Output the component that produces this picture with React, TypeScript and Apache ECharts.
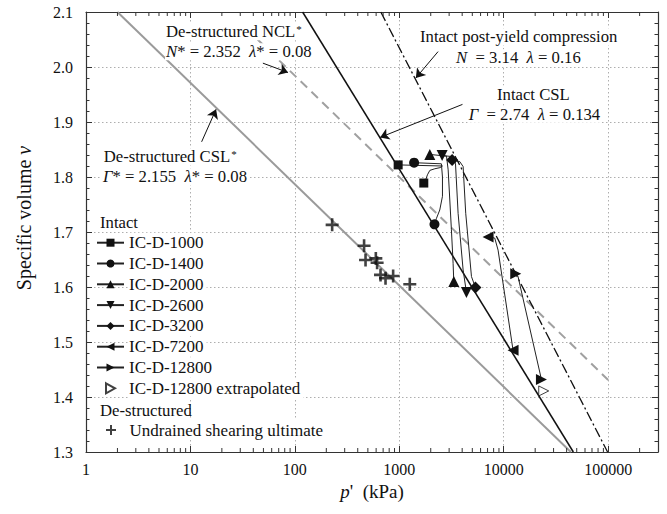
import React, { useEffect, useRef } from 'react';
import * as echarts from 'echarts';

const FONT = 'Liberation Serif';

// Axes
const X_MIN = 1;
const X_MAX = 300000;
const Y_MIN = 1.3;
const Y_MAX = 2.1;
const Y_STEP = 0.1;

// Reference lines (end points)
const cslDestructured = [[2.0, 2.1], [43900, 1.3]];
const nclDestructured = [[44, 2.05], [100000, 1.431]];
const cslIntact = [[118.6, 2.1], [46400, 1.3]];
const postYieldIntact = [[665, 2.1], [98700, 1.3]];

// Test paths (p', v)
const icd1000 = [[975, 1.822], [2590, 1.820], [2450, 1.817], [2190, 1.815], [1960, 1.812], [1860, 1.804], [1790, 1.795], [1716, 1.789]];
const icd1400 = [[1386, 1.826], [2530, 1.824], [2590, 1.800], [2590, 1.765], [2440, 1.740], [2270, 1.725], [2172, 1.714]];
const icd2000 = [[1959, 1.841], [2830, 1.838], [2937, 1.813], [3155, 1.704], [3275, 1.643], [3325, 1.610]];
const icd2600 = [[2570, 1.839], [3275, 1.837], [3451, 1.825], [3656, 1.734], [4083, 1.631], [4395, 1.590]];
const icd3200 = [[3205, 1.831], [3794, 1.828], [4083, 1.819], [4326, 1.734], [4909, 1.619], [5360, 1.599]];
const icd7200 = [[7080, 1.691], [8201, 1.689], [8828, 1.667], [12280, 1.485]];
const icd12800 = [[13030, 1.624], [13700, 1.619], [22950, 1.432]];
const icd12800Extrapolated = [[24150, 1.411]];
const undrainedUltimate = [[227.5, 1.713], [460, 1.675], [475, 1.649], [596, 1.652], [613, 1.644], [661, 1.622], [738, 1.616], [873, 1.620], [1260, 1.605]];

// Annotation arrows [from, to]
const arrowNcl = [[49.4, 2.007], [86, 1.99]];
const arrowCslD = [[12.8, 1.864], [17.6, 1.923]];
const arrowPost = [[2351, 2.028], [1440, 1.980]];
const arrowCslI = [[4027, 1.932], [655, 1.872]];

const SYM_TRI_DOWN = 'path://M0,0L10,0L5,9Z';
const SYM_TRI_LEFT = 'path://M0,5L9,0L9,10Z';
const SYM_TRI_RIGHT = 'path://M0,0L9,5L0,10Z';
const SYM_PLUS = 'path://M4,0H6V4H10V6H6V10H4V6H0V4H4Z';

const minorTicksX: number[] = [];
for (let d = 1; d <= 100000; d *= 10) {
  for (let k = 2; k <= 9; k++) {
    const v = d * k;
    if (v < X_MAX) minorTicksX.push(v);
  }
}

function pathData(arr: number[][]) {
  return arr.map((pt, i) =>
    i === 0 || i === arr.length - 1 ? { value: pt } : { value: pt, symbol: 'none' }
  );
}

function testSeries(name: string, arr: number[][], symbol: string, size: number) {
  return {
    name,
    type: 'line',
    data: pathData(arr),
    symbol,
    symbolSize: size,
    showSymbol: true,
    showAllSymbol: true,
    smooth: false,
    itemStyle: { color: '#111' },
    lineStyle: { color: '#222', width: 1 },
    z: 5,
  };
}

function refLine(name: string, arr: number[][], color: string, width: number, type: any, arrow: number[][]) {
  return {
    name,
    type: 'line',
    data: arr,
    symbol: 'none',
    lineStyle: { color, width, type },
    silent: true,
    z: 3,
    markLine: {
      silent: true,
      symbol: ['none', 'arrow'],
      symbolSize: 9,
      label: { show: false },
      lineStyle: { color: '#111', width: 1, type: 'solid' },
      data: [[{ coord: arrow[0] }, { coord: arrow[1] }]],
    },
  };
}

const FS = 16.7;
const txt = (x: number, y: number, text: string, bg = true) => ({
  type: 'text',
  x,
  y,
  z: 100,
  silent: true,
  style: {
    text,
    fill: '#111',
    fontFamily: FONT,
    fontSize: FS,
    align: 'left',
    verticalAlign: 'middle',
    backgroundColor: bg ? '#fff' : undefined,
    padding: bg ? [0, 1, 0, 1] : 0,
    rich: {
      n: { fontFamily: FONT, fontSize: FS, fill: '#111' },
      i: { fontFamily: FONT, fontSize: FS, fontStyle: 'italic', fill: '#111' },
      s: { fontFamily: FONT, fontSize: 11, fill: '#111', verticalAlign: 'top', padding: [0, 0, 6, 1] },
    },
  },
});

export default function App() {
  const ref = useRef<HTMLDivElement>(null);
  useEffect(() => {
    if (!ref.current) return;
    const chart = echarts.init(ref.current, undefined, { renderer: 'svg' });
    const legendText = {
      fontFamily: FONT,
      fontSize: 17,
      color: '#111',
      lineHeight: 16,
      backgroundColor: '#fff',
      padding: [2, 3, 2, 0],
    };
    const option: any = {
      animation: false,
      backgroundColor: '#fff',
      textStyle: { fontFamily: FONT },
      grid: { left: 86, right: 9, top: 12, bottom: 62 },
      xAxis: [
        {
          type: 'log',
          logBase: 10,
          min: X_MIN,
          max: X_MAX,
          position: 'bottom',
          name: "{i|p}{n|'  (kPa)}",
          nameLocation: 'middle',
          nameGap: 28,
          nameTextStyle: {
            rich: {
              i: { fontFamily: FONT, fontSize: 19, fontStyle: 'italic', color: '#111' },
              n: { fontFamily: FONT, fontSize: 19, color: '#111' },
            },
          },
          axisLine: { show: true, onZero: false, lineStyle: { color: '#333', width: 1.2 } },
          axisTick: { show: true, inside: true, length: 6, lineStyle: { color: '#333' } },
          minorTick: { show: false },
          axisLabel: {
            fontFamily: FONT,
            fontSize: 16,
            color: '#111',
            margin: 9,
            showMaxLabel: false,
            formatter: (v: number) => String(Math.round(v)),
          },
          splitLine: { show: true, lineStyle: { color: '#999', width: 0.8, type: [1.5, 2.5] } },
        },
        {
          type: 'log',
          logBase: 10,
          min: X_MIN,
          max: X_MAX,
          position: 'top',
          axisLine: { show: true, onZero: false, lineStyle: { color: '#333', width: 1.2 } },
          axisTick: { show: true, inside: true, length: 6, lineStyle: { color: '#333' } },
          axisLabel: { show: false },
          splitLine: { show: false },
        },
      ],
      yAxis: [
        {
          type: 'value',
          min: Y_MIN,
          max: Y_MAX,
          interval: Y_STEP,
          position: 'left',
          name: '{n|Specific volume }{i|v}',
          nameLocation: 'middle',
          nameGap: 52,
          nameTextStyle: {
            padding: [0, 0, 0, 28],
            rich: {
              i: { fontFamily: FONT, fontSize: 20, fontStyle: 'italic', color: '#111' },
              n: { fontFamily: FONT, fontSize: 20, color: '#111' },
            },
          },
          axisLine: { show: true, onZero: false, lineStyle: { color: '#333', width: 1.2 } },
          axisTick: { show: true, inside: true, length: 6, lineStyle: { color: '#333' } },
          minorTick: { show: true, splitNumber: 5, length: 3.5, lineStyle: { color: '#333' } },
          axisLabel: {
            fontFamily: FONT,
            fontSize: 16,
            color: '#111',
            margin: 13,
            formatter: (v: number) => v.toFixed(1),
          },
          splitLine: { show: true, lineStyle: { color: '#999', width: 0.8, type: [1.5, 2.5] } },
        },
        {
          type: 'value',
          min: Y_MIN,
          max: Y_MAX,
          interval: Y_STEP,
          position: 'right',
          axisLine: { show: true, onZero: false, lineStyle: { color: '#333', width: 1.2 } },
          axisTick: { show: true, inside: true, length: 6, lineStyle: { color: '#333' } },
          minorTick: { show: true, splitNumber: 5, length: 3.5, lineStyle: { color: '#333' } },
          axisLabel: { show: false },
          splitLine: { show: false },
        },
      ],
      legend: [
        {
          orient: 'vertical',
          left: 96,
          top: 232.7,
          padding: 0,
          itemWidth: 27,
          itemHeight: 10,
          itemGap: 0.8,
          selectedMode: false,
          textStyle: legendText,
          data: ['IC-D-1000', 'IC-D-1400', 'IC-D-2000', 'IC-D-2600', 'IC-D-3200', 'IC-D-7200', 'IC-D-12800', 'IC-D-12800 extrapolated'],
        },
        {
          orient: 'vertical',
          left: 106,
          top: 420,
          padding: 0,
          itemWidth: 27,
          itemHeight: 10,
          selectedMode: false,
          textStyle: legendText,
          data: ['Undrained shearing ultimate'],
        },
      ],
      graphic: [
        txt(165, 31.7, '{n|De-structured NCL}{s|*}'),
        txt(165, 51.7, '{i|N}{n|* = 2.352  }{i|λ}{n|* = 0.08}'),
        txt(419, 36.7, '{n|Intact post-yield compression}'),
        txt(455, 57.7, '{i|N}{n|  = 3.14  }{i|λ}{n| = 0.16}'),
        txt(496, 94, '{n|Intact CSL}'),
        txt(467.7, 114.3, '{i|Γ}{n|  = 2.74  }{i|λ}{n| = 0.134}'),
        txt(102.7, 156.7, '{n|De-structured CSL}{s|*}'),
        txt(102, 176.7, '{i|Γ}{n|* = 2.155  }{i|λ}{n|* = 0.08}'),
        txt(100, 222.3, '{n|Intact}', false),
        txt(100, 410, '{n|De-structured}', false),
      ],
      series: [
        refLine('De-structured CSL*', cslDestructured, '#9a9a9a', 2, 'solid', arrowCslD),
        refLine('De-structured NCL*', nclDestructured, '#a0a0a0', 2, [9, 6], arrowNcl),
        refLine('Intact CSL', cslIntact, '#111', 1.5, 'solid', arrowCslI),
        refLine('Intact post-yield compression', postYieldIntact, '#111', 1.3, [10, 3, 2, 3], arrowPost),
        testSeries('IC-D-1000', icd1000, 'rect', 9),
        testSeries('IC-D-1400', icd1400, 'circle', 10),
        testSeries('IC-D-2000', icd2000, 'triangle', 11),
        testSeries('IC-D-2600', icd2600, SYM_TRI_DOWN, 11),
        testSeries('IC-D-3200', icd3200, 'diamond', 12),
        testSeries('IC-D-7200', icd7200, SYM_TRI_LEFT, 11),
        testSeries('IC-D-12800', icd12800, SYM_TRI_RIGHT, 11),
        {
          name: 'IC-D-12800 extrapolated',
          type: 'scatter',
          data: icd12800Extrapolated,
          symbol: SYM_TRI_RIGHT,
          symbolSize: 10,
          itemStyle: { color: '#fff', borderColor: '#111', borderWidth: 1 },
          z: 5,
        },
        {
          name: 'Undrained shearing ultimate',
          type: 'scatter',
          data: undrainedUltimate,
          symbol: SYM_PLUS,
          symbolSize: 13,
          itemStyle: { color: '#111' },
          z: 5,
        },
        {
          name: 'minor ticks',
          type: 'custom',
          silent: true,
          data: minorTicksX.map((v) => [v, Y_MIN]),
          encode: { x: 0, y: 1 },
          z: 6,
          renderItem: (params: any, api: any) => {
            const x = api.value(0);
            const b = api.coord([x, Y_MIN]);
            const t = api.coord([x, Y_MAX]);
            return {
              type: 'group',
              children: [
                { type: 'line', shape: { x1: b[0], y1: b[1], x2: b[0], y2: b[1] - 4 }, style: { stroke: '#333', lineWidth: 1 } },
                { type: 'line', shape: { x1: t[0], y1: t[1], x2: t[0], y2: t[1] + 4 }, style: { stroke: '#333', lineWidth: 1 } },
              ],
            };
          },
        },
      ],
    };
    chart.setOption(option);
    return () => chart.dispose();
  }, []);
  return (
    <div
      ref={ref}
      style={{ position: 'fixed', left: 0, top: 0, width: 667, height: 514, background: '#fff' }}
    />
  );
}
